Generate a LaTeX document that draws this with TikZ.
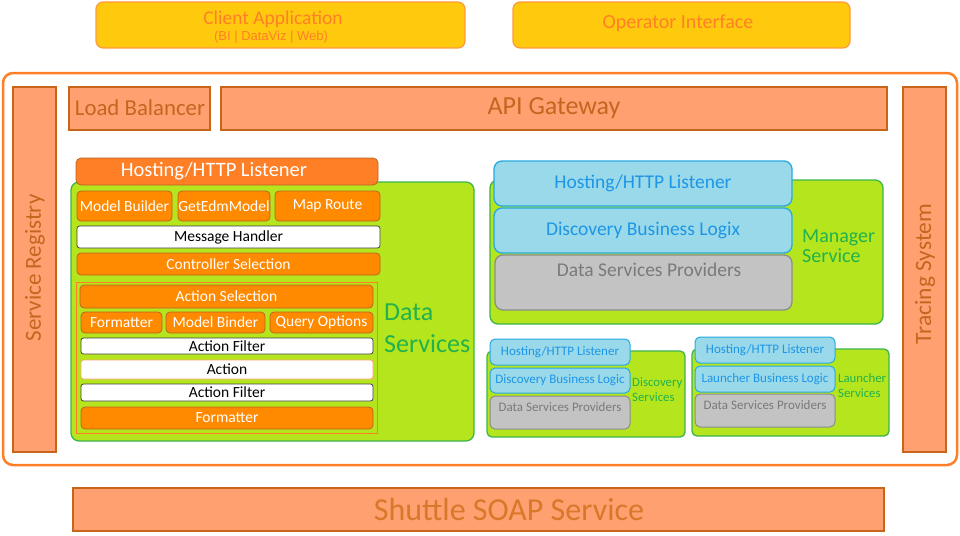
\documentclass[tikz,border=0pt]{standalone}
\usepackage{fontspec}
\setmainfont{Carlito}
\newfontfamily\arialf{Liberation Sans}
\definecolor{yel}{HTML}{FFC90E}
\definecolor{yelb}{HTML}{FF9A3C}
\definecolor{yelt}{HTML}{FF7F27}
\definecolor{salm}{HTML}{FFA070}
\definecolor{salmb}{HTML}{C8651B}
\definecolor{salmt}{HTML}{C4661F}
\definecolor{soapt}{HTML}{D9782A}
\definecolor{outb}{HTML}{FF7F27}
\definecolor{grn}{HTML}{B5E61D}
\definecolor{grnb}{HTML}{3CB44B}
\definecolor{grnt}{HTML}{22B14C}
\definecolor{org}{HTML}{FF8A00}
\definecolor{orgh}{HTML}{FF7F27}
\definecolor{orgb}{HTML}{B8651F}
\definecolor{blu}{HTML}{99D9EA}
\definecolor{blub}{HTML}{27A9E1}
\definecolor{blut}{HTML}{1E96E6}
\definecolor{gry}{HTML}{C3C3C3}
\definecolor{gryb}{HTML}{8C8C8C}
\definecolor{gryt}{HTML}{7A7A7A}
\newcommand\bx[7]{\node[#6, minimum width={#4-#2}, minimum height={#5-#3}, inner sep=0pt] (#1) at ({(#2+#4)/2},{(#3+#5)/2}) {#7};}
\tikzset{
  yelbox/.style={draw=yelb, fill=yel, line width=1.2pt, rounded corners=7pt, text=yelt},
  salbox/.style={draw=salmb, fill=salm, line width=2pt, text=salmt},
  grnbox/.style={draw=grnb, fill=grn, line width=1.3pt, rounded corners=8pt},
  orgbox/.style={draw=orgb, fill=org, line width=0.8pt, rounded corners=4pt, text=white, font=\fontsize{15.5}{18}\selectfont},
  hostbox/.style={draw=orgb, fill=orgh, line width=0.8pt, rounded corners=5pt, text=white, font=\fontsize{20.5}{24}\selectfont},
  whtbox/.style={draw=black!75, fill=white, line width=0.8pt, rounded corners=2.5pt, text=black, font=\fontsize{15.5}{18}\selectfont},
  blubox/.style={draw=blub, fill=blu, line width=1.3pt, rounded corners=8pt, text=blut, font=\fontsize{19.5}{22}\selectfont},
  grybox/.style={draw=gryb, fill=gry, line width=1.3pt, rounded corners=8pt, text=gryt, font=\fontsize{19.5}{22}\selectfont},
  sblubox/.style={draw=blub, fill=blu, line width=1pt, rounded corners=5pt, text=blut, font=\fontsize{13}{15}\selectfont},
  sgrybox/.style={draw=gryb, fill=gry, line width=1pt, rounded corners=5pt, text=gryt, font=\fontsize{13}{15}\selectfont},
  gtext/.style={text=grnt, align=left, inner sep=0pt, anchor=west},
}
\begin{document}
\begin{tikzpicture}[x=1pt,y=-1pt]
\useasboundingbox (0,0) rectangle (960,535);
% top clients
\bx{client}{96}{2}{465}{48}{yelbox}{}
\node[text=yelt, font=\fontsize{19.5}{22}\selectfont, inner sep=0pt] (clientt) at (273,19) {Client Application};
\node[text=yelt, font=\arialf\fontsize{13}{15}\selectfont, inner sep=0pt] (clients) at (271,37) {(BI | DataViz | Web)};
\bx{oper}{513}{2}{850}{48}{yelbox}{}
\node[text=yelt, font=\fontsize{20}{23}\selectfont, inner sep=0pt] (opert) at (678,23) {Operator Interface};
% outer container
\node[draw=outb, line width=2.5pt, rounded corners=10pt, minimum width=954, minimum height=392, inner sep=0pt] (outer) at (480,269) {};
% salmon bars
\bx{reg}{13}{87}{56}{452}{salbox}{}
\node[rotate=90, text=salmt, font=\fontsize{23}{26}\selectfont, inner sep=0pt] (regt) at (35,268) {Service Registry};
\bx{trace}{903}{87}{946}{452}{salbox}{}
\node[rotate=90, text=salmt, font=\fontsize{23.4}{26}\selectfont, inner sep=0pt] (tracet) at (925,274) {Tracing System};
\bx{lb}{69}{87}{210}{130}{salbox}{}
\node[text=salmt, font=\fontsize{22.8}{26}\selectfont, inner sep=0pt] (lbt) at (140,108) {Load Balancer};
\bx{api}{221}{87}{887}{130}{salbox}{}
\node[text=salmt, font=\fontsize{26}{29}\selectfont, inner sep=0pt] (apit) at (554,108) {API Gateway};
\bx{soap}{73}{488}{884}{531}{salbox}{}
\node[text=soapt, font=\fontsize{32}{36}\selectfont, inner sep=0pt] (soapt) at (509,510) {Shuttle SOAP Service};
% Data services
\bx{ds}{71}{182}{474}{441}{grnbox}{}
\bx{dshost}{76}{158}{378}{185}{hostbox}{}
\node[text=white, font=\fontsize{20.5}{24}\selectfont, inner sep=0pt] (dshostt) at (214,171) {Hosting/HTTP Listener};
\bx{mb}{77}{191}{172}{221}{orgbox}{Model Builder}
\bx{gem}{178}{191}{270}{221}{orgbox}{GetEdmModel}
\bx{mr}{275}{191}{380}{221}{orgbox}{Map Route}
\bx{mh}{77}{226}{380}{248}{whtbox}{Message Handler}
\bx{cs}{77}{253}{380}{275}{orgbox}{Controller Selection}
\bx{inner}{76}{282}{377}{433}{draw=outb, line width=0.6pt}{}
\bx{as}{80}{285}{373}{308}{orgbox}{Action Selection}
\bx{fm1}{81}{312}{162}{333}{orgbox}{Formatter}
\bx{mbi}{166}{312}{265}{333}{orgbox}{Model Binder}
\bx{qo}{270}{312}{373}{333}{orgbox}{Query Options}
\bx{af1}{81}{338}{373}{354}{whtbox}{Action Filter}
\bx{act}{81}{360}{373}{379}{whtbox, draw=salm}{Action}
\bx{af2}{81}{384}{373}{401}{whtbox}{Action Filter}
\bx{fm2}{81}{407}{373}{429}{orgbox}{Formatter}
\node[gtext, font=\fontsize{26}{32}\selectfont] (dst) at (384,328) {Data\\Services};
% Manager service
\bx{ms}{490}{180}{883}{324}{grnbox}{}
\bx{mhost}{494}{161}{792}{206}{blubox}{Hosting/HTTP Listener}
\bx{mdbl}{494}{208}{792}{253}{blubox}{Discovery Business Logix}
\bx{mdsp}{495}{255}{792}{310}{grybox}{}
\node[text=gryt, font=\fontsize{19.5}{22}\selectfont, inner sep=0pt] (mdspt) at (649,270) {Data Services Providers};
\node[gtext, font=\fontsize{20}{20.5}\selectfont] (mst) at (802,246) {Manager\\Service};
% Discovery services
\bx{dsv}{487}{351}{685}{437}{grnbox, rounded corners=5pt}{}
\bx{dhost}{490}{339}{630}{365}{sblubox}{Hosting/HTTP Listener}
\bx{dbl}{490}{368}{630}{393}{sblubox}{Discovery Business Logic}
\bx{ddsp}{490}{396}{630}{429}{sgrybox}{}
\node[text=gryt, font=\fontsize{13}{15}\selectfont, inner sep=0pt] (ddspt) at (560,407) {Data Services Providers};
\node[gtext, font=\fontsize{12.8}{15}\selectfont] (dsvt) at (632,390) {Discovery\\Services};
% Launcher services
\bx{lsv}{692}{349}{889}{436}{grnbox, rounded corners=5pt}{}
\bx{lhost}{695}{337}{835}{363}{sblubox}{Hosting/HTTP Listener}
\bx{lbl}{695}{366}{835}{392}{sblubox}{Launcher Business Logic}
\bx{ldsp}{695}{394}{835}{427}{sgrybox}{}
\node[text=gryt, font=\fontsize{13}{15}\selectfont, inner sep=0pt] (ldspt) at (765,405) {Data Services Providers};
\node[gtext, font=\fontsize{12.8}{15}\selectfont] (lsvt) at (838,386) {Launcher\\Services};
\end{tikzpicture}
\end{document}
